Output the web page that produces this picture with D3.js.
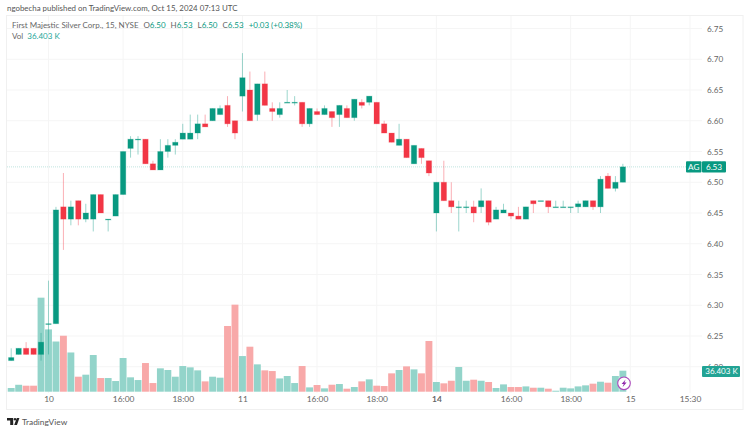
<!DOCTYPE html>
<html>
<head>
<meta charset="utf-8">
<script src="https://cdn.jsdelivr.net/npm/d3@7"></script>
<style>
html, body { margin: 0; padding: 0; background: #fff; overflow: hidden; }
svg { display: block; }
text { font-family: Lato, sans-serif; }
</style>
</head>
<body>
<svg id="chart" width="750" height="430"></svg>
<script>
const opens = [6.21,6.22,6.23,6.23,6.22,6.27,6.27,6.46,6.44,6.47,
  6.44,6.44,6.48,6.44,6.445,6.48,6.555,6.57,6.57,6.53,
  6.52,6.55,6.56,6.57,6.57,6.58,6.595,6.60,6.61,6.625,
  6.60,6.64,6.65,6.61,6.66,6.62,6.61,6.63,6.63,6.63,
  6.595,6.615,6.61,6.615,6.61,6.62,6.605,6.63,6.63,6.63,
  6.595,6.58,6.56,6.57,6.53,6.555,6.535,6.45,6.50,6.47,
  6.46,6.46,6.46,6.46,6.47,6.44,6.45,6.45,6.445,6.44,
  6.47,6.47,6.47,6.46,6.46,6.46,6.46,6.46,6.47,6.46,
  6.51,6.49,6.50];
const closes = [6.215,6.23,6.22,6.22,6.24,6.27,6.455,6.44,6.46,6.44,
  6.45,6.48,6.45,6.44,6.48,6.55,6.57,6.57,6.53,6.52,
  6.55,6.56,6.565,6.58,6.58,6.595,6.59,6.62,6.62,6.595,
  6.58,6.67,6.60,6.66,6.625,6.615,6.62,6.63,6.63,6.595,
  6.62,6.61,6.62,6.605,6.625,6.605,6.635,6.625,6.64,6.595,
  6.58,6.565,6.57,6.54,6.56,6.54,6.515,6.50,6.47,6.46,
  6.46,6.46,6.45,6.47,6.435,6.455,6.455,6.445,6.44,6.46,
  6.465,6.47,6.46,6.46,6.46,6.46,6.465,6.47,6.46,6.505,
  6.49,6.50,6.525];
const highs = [6.23,6.23,6.24,6.23,6.255,6.34,6.46,6.515,6.47,6.47,
  6.465,6.48,6.48,6.44,6.48,6.55,6.575,6.575,6.57,6.535,
  6.57,6.57,6.57,6.595,6.61,6.61,6.61,6.62,6.625,6.64,
  6.60,6.71,6.68,6.66,6.68,6.63,6.63,6.65,6.64,6.63,
  6.62,6.62,6.625,6.615,6.625,6.625,6.635,6.635,6.64,6.63,
  6.60,6.58,6.595,6.57,6.56,6.555,6.535,6.50,6.535,6.50,
  6.47,6.47,6.47,6.49,6.47,6.46,6.465,6.45,6.46,6.46,
  6.47,6.47,6.47,6.47,6.47,6.46,6.47,6.47,6.47,6.51,
  6.515,6.51,6.53];
const lows = [6.21,6.22,6.22,6.22,6.21,6.22,6.27,6.39,6.43,6.43,
  6.435,6.42,6.45,6.42,6.445,6.48,6.54,6.545,6.53,6.52,
  6.52,6.54,6.545,6.57,6.57,6.57,6.59,6.60,6.61,6.59,
  6.57,6.615,6.60,6.60,6.625,6.60,6.605,6.63,6.625,6.59,
  6.59,6.61,6.61,6.59,6.59,6.605,6.60,6.62,6.625,6.595,
  6.58,6.565,6.56,6.54,6.53,6.53,6.51,6.42,6.47,6.45,
  6.42,6.45,6.435,6.45,6.43,6.44,6.45,6.44,6.44,6.44,
  6.45,6.47,6.45,6.46,6.46,6.45,6.45,6.46,6.455,6.45,
  6.49,6.485,6.50];
// volume in thousands
const volumes = [6.4,12,10.4,10.4,163,108,87,97,68,26,
  29.5,63.6,23.7,23.7,18.5,58.4,24.9,20.2,49.7,15,
  40.5,37.6,26,44.5,42.2,37,17.9,26,24.3,113.9,
  150.9,61.8,78,47.4,37,35.8,23,27.2,15,44.5,
  7.5,11.6,5.8,12.1,13.3,5.2,8.1,17.9,21.4,10.4,
  9.8,31.8,37.6,43.9,38.7,31.8,87.9,16.8,14.5,19,
  42.8,19,20.8,19,16.8,6.4,12.7,8.1,8.1,9.2,
  6.9,6.9,5.2,1.7,6.9,5.8,9.2,11,13.9,17.3,
  15.6,27.2,36.403];
const priceTicks = [6.75,6.70,6.65,6.60,6.55,6.50,6.45,6.40,6.35,6.30,6.25,6.20];
const timeTickBars = [5,15,23,31,41,49,57,67,75,83,91];
const timeTickLabels = ['10','16:00','18:00','11','16:00','18:00','14','16:00','18:00','15','15:30'];
const boldTicks = ['14'];

const up = '#089981', down = '#F23645';
const volUp = '#93D4CA', volDown = '#F8A9A9';
const textCol = '#666';
const bars = d3.range(opens.length);

const svg = d3.select('#chart');
const x = d3.scaleLinear().domain([0, 91]).range([11.2, 690]);
const y = d3.scaleLinear().domain([6.75, 6.20]).range([28.5, 366.75]);
const v = d3.scaleLinear().domain([0, 36.403]).range([391.7, 370.7]);
const bodyW = 5.4, volW = 6.9;
const isUp = i => closes[i] >= opens[i];

// frame
svg.append('rect').attr('x', 6.5).attr('y', 15.5).attr('width', 736.5).attr('height', 394)
  .attr('fill', '#fff').attr('stroke', '#f0f0f0');

// grid
svg.append('g').selectAll('line').data(priceTicks).enter().append('line')
  .attr('x1', 7).attr('x2', 702).attr('y1', d => y(d)).attr('y2', d => y(d))
  .attr('stroke', '#f5f5f5');
svg.append('g').selectAll('line').data(timeTickBars).enter().append('line')
  .attr('x1', d => x(d)).attr('x2', d => x(d)).attr('y1', 16).attr('y2', 393)
  .attr('stroke', '#f5f5f5');

// volume
svg.append('g').selectAll('rect').data(bars).enter().append('rect')
  .attr('x', i => x(i) - volW / 2).attr('width', volW)
  .attr('y', i => v(volumes[i])).attr('height', i => v(0) - v(volumes[i]))
  .attr('fill', i => isUp(i) ? volUp : volDown);

// last price line
svg.append('line').attr('x1', 7).attr('x2', 686)
  .attr('y1', y(closes[82])).attr('y2', y(closes[82]))
  .attr('stroke', '#089981').attr('stroke-opacity', 0.25).attr('stroke-dasharray', '1,1');

// candles
svg.append('g').selectAll('line').data(bars).enter().append('line')
  .attr('x1', i => x(i)).attr('x2', i => x(i))
  .attr('y1', i => y(highs[i])).attr('y2', i => y(lows[i]))
  .attr('stroke', i => isUp(i) ? up : down).attr('stroke-opacity', 0.4).attr('stroke-width', 1);
svg.append('g').selectAll('rect').data(bars).enter().append('rect')
  .attr('x', i => x(i) - bodyW / 2).attr('width', bodyW)
  .attr('y', i => y(Math.max(opens[i], closes[i])))
  .attr('height', i => Math.max(0.8, Math.abs(y(opens[i]) - y(closes[i]))))
  .attr('fill', i => isUp(i) ? up : down)
  .attr('stroke', i => isUp(i) ? up : down).attr('stroke-opacity', 0.22).attr('stroke-width', 1);

// price axis
const yAxis = svg.append('g').attr('transform', 'translate(707,0)')
  .call(d3.axisRight(y).tickValues(priceTicks).tickFormat(d3.format('.2f')).tickSize(0).tickPadding(0));
yAxis.select('.domain').remove();
yAxis.selectAll('text').attr('fill', textCol).style('font-size', '8.2px').style('font-family', 'Lato, sans-serif');

// time axis
const xAxis = svg.append('g').attr('transform', 'translate(0,396)')
  .call(d3.axisBottom(x).tickValues(timeTickBars).tickFormat((d, i) => timeTickLabels[i]).tickSize(0).tickPadding(0));
xAxis.select('.domain').remove();
xAxis.selectAll('text').attr('fill', textCol).style('font-size', '8.4px').style('font-family', 'Lato, sans-serif')
  .style('font-weight', (d, i) => boldTicks.includes(timeTickLabels[i]) ? 700 : 400);

// price tags
const tagY = y(closes[82]);
svg.append('rect').attr('x', 686).attr('y', tagY - 5.7).attr('width', 15.5).attr('height', 11.4).attr('rx', 1).attr('fill', up);
svg.append('rect').attr('x', 702).attr('y', tagY - 5.7).attr('width', 24).attr('height', 11.4).attr('rx', 1).attr('fill', up);
svg.append('text').attr('x', 693.7).attr('y', tagY + 3).attr('text-anchor', 'middle').attr('fill', '#fff').style('font-size', '8.2px').text('AG');
svg.append('text').attr('x', 714).attr('y', tagY + 3).attr('text-anchor', 'middle').attr('fill', '#fff').style('font-size', '8.2px').text(d3.format('.2f')(closes[82] + 0.005));

// volume tag, covers most of the 6.20 label like the original
svg.append('rect').attr('x', 702).attr('y', 366).attr('width', 38).attr('height', 11).attr('rx', 1).attr('fill', '#22a394');
svg.append('text').attr('x', 721.5).attr('y', 374.4).attr('text-anchor', 'middle').attr('fill', '#fff').style('font-size', '8px').text('36.403 K');

// lightning badge
svg.append('circle').attr('cx', 624).attr('cy', 383.3).attr('r', 6.3).attr('fill', '#fff').attr('stroke', '#ab47bc').attr('stroke-width', 1.1);
svg.append('path').attr('d', 'M625.6 379.4 L621.6 384 L623.8 384 L622.5 387.2 L626.6 382.6 L624.4 382.6 Z').attr('fill', '#8e24aa');

// header text
svg.append('text').attr('x', 7).attr('y', 11).attr('fill', '#555').style('font-size', '7.9px')
  .text('ngobecha published on TradingView.com, Oct 15, 2024 07:13 UTC');

const legend = svg.append('text').attr('x', 12).attr('y', 28).attr('fill', textCol).style('font-size', '8px');
legend.append('tspan').text('First Majestic Silver Corp., 15, NYSE');
[['O', '6.50'], ['H', '6.53'], ['L', '6.50'], ['C', '6.53']].forEach(p => {
  legend.append('tspan').attr('dx', 5).text(p[0]);
  legend.append('tspan').attr('fill', up).text(p[1]);
});
legend.append('tspan').attr('dx', 5).attr('fill', up).text('+0.03 (+0.38%)');

const vol = svg.append('text').attr('x', 12).attr('y', 39).attr('fill', textCol).style('font-size', '8px');
vol.append('tspan').text('Vol');
vol.append('tspan').attr('dx', 4).attr('fill', '#26a69a').text('36.403 K');

// footer logo
svg.append('path').attr('d', 'M7 418 H13.2 V425 H10.2 V420.4 H7 Z M14.2 425 L16.8 418 H19.4 L17 425 Z').attr('fill', '#222');
svg.append('circle').attr('cx', 15).attr('cy', 419.2).attr('r', 1.2).attr('fill', '#222');
svg.append('text').attr('x', 22).attr('y', 425).attr('fill', '#555').style('font-size', '8.4px').text('TradingView');
</script>
</body>
</html>
